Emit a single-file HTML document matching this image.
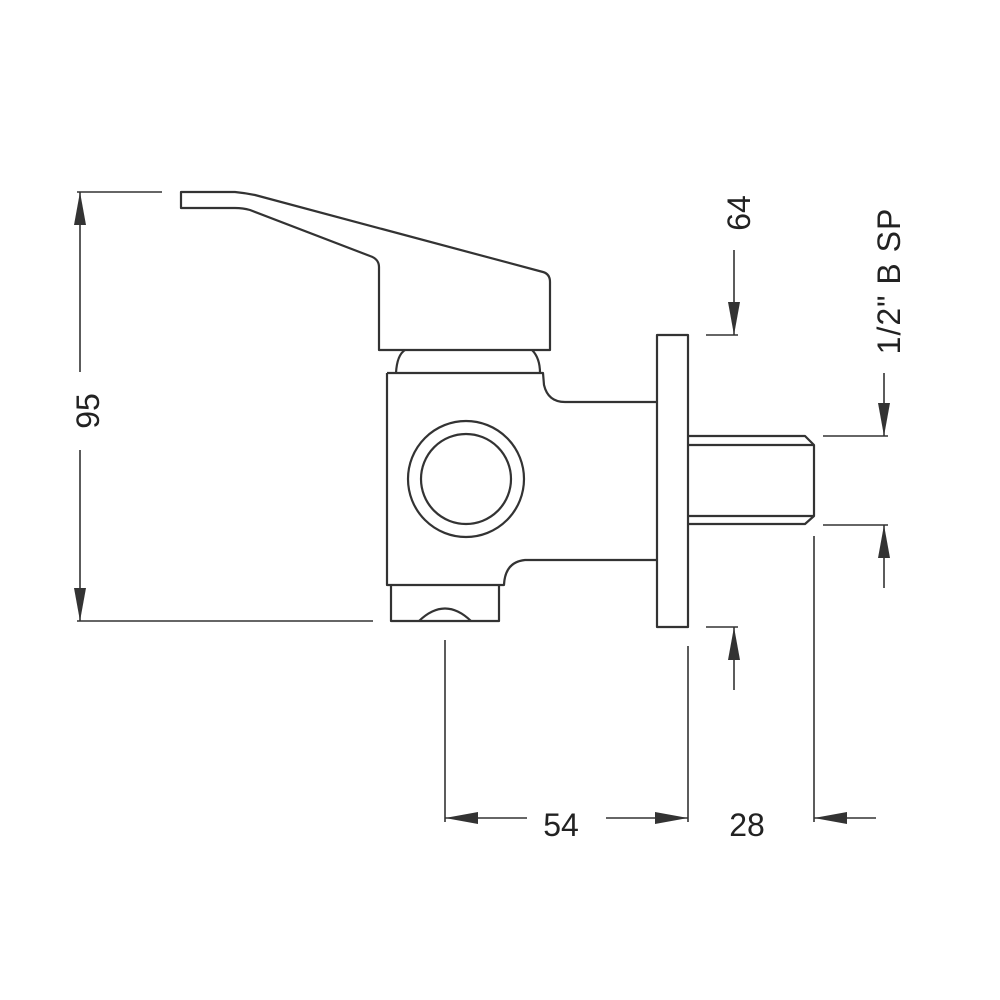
<!DOCTYPE html>
<html><head><meta charset="utf-8"><style>
html,body{margin:0;padding:0;background:#fff;}
svg{display:block;}
text{font-family:"Liberation Sans",Arial,sans-serif;fill:#222;}
</style></head><body>
<svg width="1000" height="1000" viewBox="0 0 1000 1000" xmlns="http://www.w3.org/2000/svg">
<defs>
<marker id="a" viewBox="0 0 10 10" refX="10" refY="5" markerWidth="33" markerHeight="12" markerUnits="userSpaceOnUse" orient="auto" preserveAspectRatio="none">
<path d="M0,0 L10,5 L0,10 Z" fill="#333"/>
</marker>
</defs>
<g fill="none" stroke="#333" stroke-width="2.2" stroke-linejoin="round">
<!-- lever -->
<path d="M181,192 L235,192 Q245,193 255,195 L543,272 Q550,274 550,282 L550,350 L379,350 L379,267 Q379,259 370,256 L250,210 Q243,208 235,208 L181,208 Z"/>
<!-- dome -->
<path d="M396,373 Q397,355 405,350 M532,350 Q540,358 540,373"/>
<!-- body -->
<path d="M387,373 L543,373 L544,385 Q548,402 565,402 L657,402 M657,560 L525,560 Q505,562 504,585 L387,585 L387,373"/>
<!-- bottom section -->
<path d="M391,585 L391,621 L499,621 L499,585"/>
<path d="M419,621 Q445,596 471,621"/>
<!-- circles -->
<circle cx="466" cy="479" r="58"/>
<circle cx="466" cy="479" r="45"/>
<!-- flange -->
<rect x="657" y="335" width="31" height="292"/>
<!-- pipe -->
<path d="M688,436 L805,436 L814,445 L814,516 L805,524 L688,524"/>
<path d="M688,445 L814,445 M688,516 L814,516"/>
</g>
<g stroke="#333" stroke-width="1.6" fill="none">
<line x1="77" y1="192" x2="162" y2="192"/>
<line x1="77" y1="621" x2="373" y2="621"/>
<line x1="80" y1="372" x2="80" y2="192" marker-end="url(#a)"/>
<line x1="80" y1="450" x2="80" y2="621" marker-end="url(#a)"/>
<line x1="706" y1="335" x2="738" y2="335"/>
<line x1="706" y1="627" x2="738" y2="627"/>
<line x1="734" y1="250" x2="734" y2="335" marker-end="url(#a)"/>
<line x1="734" y1="690" x2="734" y2="627" marker-end="url(#a)"/>
<line x1="823" y1="436" x2="888" y2="436"/>
<line x1="823" y1="525" x2="888" y2="525"/>
<line x1="884" y1="373" x2="884" y2="436" marker-end="url(#a)"/>
<line x1="884" y1="588" x2="884" y2="525" marker-end="url(#a)"/>
<line x1="445" y1="640" x2="445" y2="822"/>
<line x1="688" y1="646" x2="688" y2="822"/>
<line x1="814" y1="536" x2="814" y2="822"/>
<line x1="527" y1="818" x2="445" y2="818" marker-end="url(#a)"/>
<line x1="606" y1="818" x2="688" y2="818" marker-end="url(#a)"/>
<line x1="876" y1="818" x2="814" y2="818" marker-end="url(#a)"/>
</g>
<g font-size="32">
<text x="561" y="836" text-anchor="middle">54</text>
<text x="747" y="836" text-anchor="middle">28</text>
<text transform="translate(99,411) rotate(-90)" text-anchor="middle">95</text>
<text transform="translate(750,213) rotate(-90)" text-anchor="middle">64</text>
<text transform="translate(900,281) rotate(-90)" text-anchor="middle" letter-spacing="1">1/2" B SP</text>
</g>
</svg>
</body></html>
